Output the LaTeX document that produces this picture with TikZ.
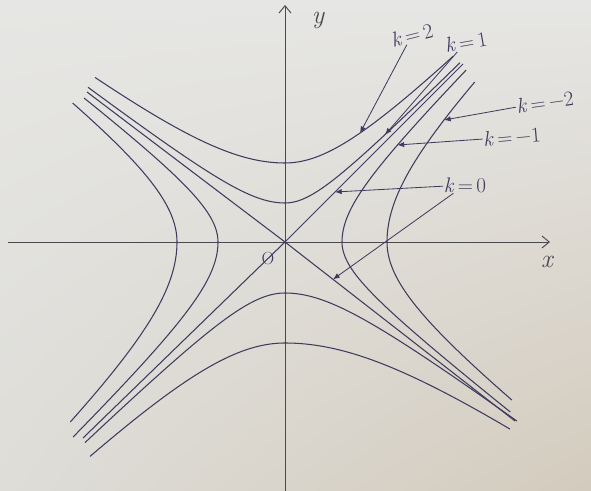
\documentclass[tikz,border=0pt]{standalone}
\usepackage{fontspec}
\usetikzlibrary{arrows.meta,shadings}
\definecolor{cInk}{HTML}{3E3B5E}
\definecolor{cAxis}{HTML}{4A4950}
\definecolor{cPaperA}{RGB}{230,230,228}
\definecolor{cPaperB}{RGB}{211,203,189}
\definecolor{cPaperC}{RGB}{222,221,216}
\tikzset{
  >={Latex[length=2mm,width=1.6mm]},
  curve/.style={draw=cInk, line width=0.9pt, smooth, samples=40},
  asym/.style={draw=cInk, line width=0.9pt},
  axis/.style={draw=cAxis, line width=0.8pt, -{Straight Barb[length=2.2mm,width=3.6mm]}},
  lead/.style={->, draw=cInk, line width=0.7pt},
  klbl/.style={text=cInk, font=\fontsize{18}{21}\selectfont, inner sep=0.5pt},
  albl/.style={text=cAxis, font=\fontsize{22}{26}\selectfont\itshape, inner sep=1pt},
}
\newcommand{\klab}[1]{\textit{k}\hspace{3pt}=\hspace{3pt}#1}

\begin{document}
\begin{tikzpicture}[x=3cm,y=3cm]
    % paper
    \shade[upper left=cPaperA, upper right=cPaperA,
           lower left=cPaperC, lower right=cPaperB]
      (-2.85,-2.49) rectangle (3.06,2.42);
    \useasboundingbox (-2.85,-2.49) rectangle (3.06,2.42);
    % axes
    \coordinate (O) at (0,0);
    \coordinate (xl) at (-2.77,0);
    \coordinate (xr) at (2.65,0);
    \coordinate (yb) at (0,-2.49);
    \coordinate (yt) at (0,2.37);
    \draw[axis] (xl) -- (xr);
    \draw[axis] (yb) -- (yt);
    \node[albl] (ylbl) at (0.33,2.22) {y};
    \node[albl] (xlbl) at (2.62,-0.20) {x};
    \node[text=cInk, font=\fontsize{15}{17}\selectfont, inner sep=1pt] (olbl) at (-0.17,-0.17) {O};
    % k = 0
    \coordinate (aUL) at (-1.98,1.50);
    \coordinate (aLR) at (2.30,-1.79);
    \coordinate (aLL) at (-2.02,-1.96);
    \coordinate (aUR) at (1.78,1.78);
    \draw[asym] (aUL) -- (O) -- (aLR);
    \draw[asym] (aLL) -- (O) -- (aUR);
    % k > 0, upper and lower branches
    \foreach \a/\xl/\xr in {0.39/-1.97/1.75, 0.79/-1.90/1.68}
      \draw[curve] plot[domain=\xl:0] (\x,{sqrt(\a*\a+0.5776*\x*\x)})
                -- plot[domain=0:\xr] (\x,{sqrt(\a*\a+\x*\x)});
    \foreach \a/\xl/\xr/\mr in {0.51/-2.0/2.32/0.5476, 1.01/-1.95/2.25/0.49}
      \draw[curve] plot[domain=\xl:0] (\x,{-sqrt(\a*\a+0.9409*\x*\x)})
                -- plot[domain=0:\xr] (\x,{-sqrt(\a*\a+\mr*\x*\x)});
    % k < 0, left and right branches
    \foreach \b/\yl/\yu in {0.67/-1.95/1.44, 1.08/-1.80/1.39}
      \draw[curve] plot[domain=\yl:0] ({-sqrt(\b*\b+1.0628*\x*\x)},\x)
                -- plot[domain=0:\yu] ({-sqrt(\b*\b+1.7313*\x*\x)},\x);
    \foreach \b/\yl/\yu in {0.57/-1.70/1.72, 1.02/-1.58/1.60}
      \draw[curve] plot[domain=\yl:0] ({sqrt(\b*\b+1.6437*\x*\x)},\x)
                -- plot[domain=0:\yu] ({sqrt(\b*\b+\x*\x)},\x);
    % labels
    \node[klbl, rotate=14] (k2)  at (1.27,2.07) {\klab{2}};
    \node[klbl, rotate=10] (k1)  at (1.81,2.00) {\klab{1}};
    \node[klbl, rotate=8]  (km2) at (2.60,1.40) {\klab{−2}};
    \node[klbl, rotate=5]  (km1) at (2.27,1.05) {\klab{−1}};
    \node[klbl]            (k0)  at (1.80,0.57) {\klab{0}};
    \coordinate (t2)  at (0.75,1.089);
    \coordinate (t1)  at (1.00,1.073);
    \coordinate (tm2) at (1.59,1.22);
    \coordinate (tm1) at (1.125,0.97);
    \coordinate (t0a) at (0.50,0.50);
    \coordinate (t0b) at (0.48,-0.374);
    \draw[lead] (k2) -- (t2);
    \draw[lead] (k1) -- (t1);
    \draw[lead] (km2) -- (tm2);
    \draw[lead] (km1) -- (tm1);
    \draw[lead] (k0) -- (t0a);
    \draw[lead] (k0) -- (t0b);
  \end{tikzpicture}
\end{document}
